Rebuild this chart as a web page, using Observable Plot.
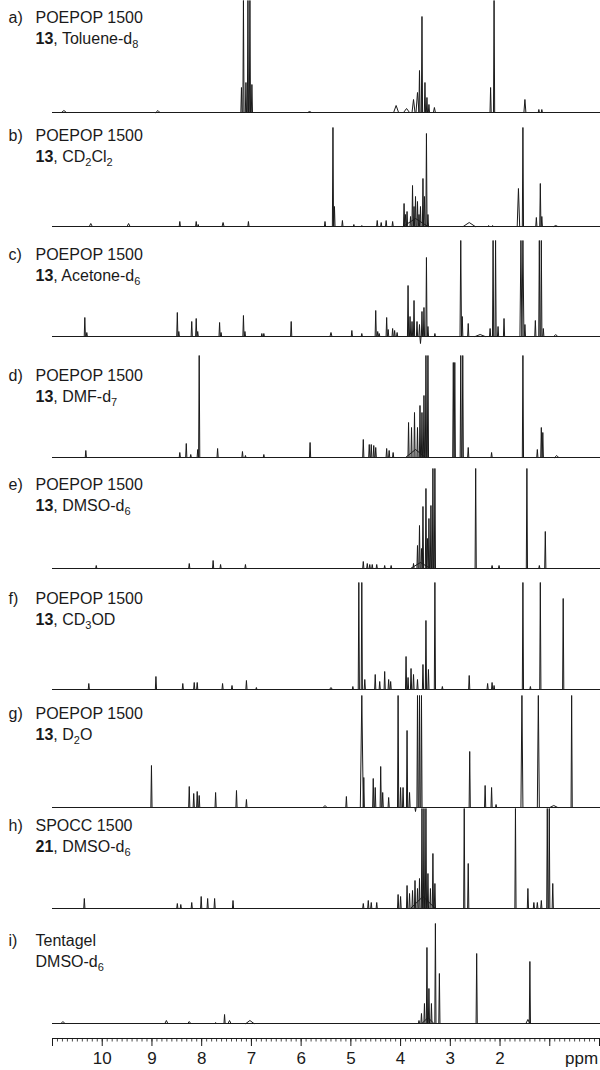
<!DOCTYPE html>
<html><head><meta charset="utf-8">
<script src="https://cdn.jsdelivr.net/npm/d3@7"></script>
<script src="https://cdn.jsdelivr.net/npm/@observablehq/plot@0.6"></script>
<style>
body{margin:0;background:#fff;}
#chart svg{display:block;}
</style></head><body><div id="chart"></div>
<script>
// ---- panel texts ----
const panelIds = ["a)","b)","c)","d)","e)","f)","g)","h)","i)"];
const line1 = ["POEPOP 1500","POEPOP 1500","POEPOP 1500","POEPOP 1500","POEPOP 1500","POEPOP 1500","POEPOP 1500","SPOCC 1500","Tentagel"];
const line2 = ["**13**, Toluene-d_8","**13**, CD_2Cl_2","**13**, Acetone-d_6","**13**, DMF-d_7","**13**, DMSO-d_6","**13**, CD_3OD","**13**, D_2O","**21**, DMSO-d_6","DMSO-d_6"];

// ---- axis ----
const tickValues = [10,9,8,7,6,5,4,3,2];
const tickLabels = ["10","9","8","7","6","5","4","3","2"];
const majorTicks = [11,10,9,8,7,6,5,4,3,2,1,0];
const unitLabel = "ppm";

// ---- peak lists: [ppm, visible height, half-width(ppm, optional)] ----
const specA = [[10.77,2,0.05],[8.88,2,0.04],[7.20,25],[7.16,112],[7.11,30],[7.07,112],[7.03,112],[6.99,28],
 [5.83,1,0.04],[4.09,7,0.05],[3.88,4,0.06],[3.74,13,0.03],[3.66,20,0.03],[3.62,42],[3.57,96],[3.51,30],[3.47,15],[3.43,8],[3.32,5,0.02],
 [2.19,25],[2.12,112],[1.50,13,0.02],[1.22,3],[1.16,3]];
const specB = [[10.23,3,0.03],[9.47,3,0.03],[8.44,5],[8.11,5],[8.07,2],[7.57,4,0.02],[7.06,5],
 [5.52,5],[5.36,99],[5.33,20],[5.17,6],[4.94,2],[4.78,1],[4.47,6],[4.39,4],[4.29,6],[4.16,5],
 [3.7,8,0.25],[3.93,23],[3.90,12],[3.87,15],[3.80,10],[3.76,41],[3.73,20],[3.70,30],[3.66,25],[3.63,12],[3.60,20],[3.55,48],[3.52,30],[3.48,93],[3.45,12],
 [2.62,4,0.12],[2.23,1],[2.15,1],[1.63,38,0.025],[1.54,99],[1.27,9],[1.19,43],[1.16,10],[0.88,1,0.04]];
const specC = [[10.35,19],[10.31,4],[8.49,24],[8.46,5],[8.20,15],[8.11,18],[8.08,5],[7.64,14],[7.61,4],[7.16,21],[7.13,5],[6.79,3],[6.75,3],[6.20,15],
 [5.40,4,0.02],[4.98,6],[4.78,3],[4.50,26],[4.46,5],[4.43,3],[4.28,19],[4.25,7],[4.16,8],[4.12,6],[4.07,4],
 [3.85,51],[3.81,20],[3.77,15],[3.73,36],[3.67,15],[3.62,12],[3.60,-7],[3.57,25],[3.53,29],[3.48,79],[3.45,10],[3.31,3],
 [2.79,96,0.015],[2.76,20],[2.64,13],[2.4,2,0.1],[2.20,8],[2.14,96],[2.09,96],[2.04,10],[1.92,18],
 [1.58,96,0.02],[1.54,96,0.02],[1.50,12],[1.29,16],[1.21,96],[1.17,96],[1.13,8],[0.88,2,0.04]];
const specD = [[10.33,7],[8.44,5],[8.31,14],[8.22,3],[8.08,8],[8.05,102],[7.68,9],[7.18,6],[7.12,2],[6.75,3],[5.82,15],
 [4.75,18],[4.63,13],[4.59,13],[4.54,12],[4.50,10],[4.28,9],[4.23,7],[4.15,5],
 [3.7,8,0.2],[3.84,35],[3.78,30],[3.72,45],[3.66,30],[3.61,52],[3.57,45],[3.53,62],[3.49,102],[3.45,102],
 [2.94,95],[2.91,95],[2.79,102],[2.75,102],[2.64,10],[2.17,5],[1.54,102],[1.25,8],[1.17,30],[1.14,25],[0.86,2,0.04]];
const specE = [[10.12,3],[8.25,5],[7.77,8],[7.62,4],[7.12,4],
 [4.75,7],[4.67,5],[4.62,4],[4.57,4],[4.48,4],[4.32,3],[4.19,3],
 [3.6,6,0.2],[3.74,5],[3.66,23],[3.62,43],[3.58,20],[3.55,62],[3.49,80],[3.46,30],[3.43,50],[3.39,63],[3.35,100],[3.31,100],
 [2.49,100],[2.16,3],[2.02,3],[1.46,100],[1.21,3],[1.09,37]];
const specF = [[10.27,6],[8.92,13],[8.38,6],[8.15,7],[8.09,7],[7.58,6],[7.39,4],[7.10,9],[6.90,2],
 [5.40,2,0.03],[4.96,3],[4.84,107],[4.78,107],[4.72,10],[4.51,15],[4.42,8],[4.32,18],[4.24,10],[4.20,8],
 [3.89,33],[3.85,12],[3.79,21],[3.74,15],[3.66,10],[3.55,25],[3.49,69],[3.44,20],[3.31,107],[3.16,3],
 [2.62,14],[2.25,6],[2.16,7],[2.12,4],[1.54,107],[1.39,3],[1.19,107],[0.73,91]];
const specG = [[9.01,42],[8.25,21],[8.16,14],[8.09,16],[8.05,12],[7.72,15],[7.30,17],[7.10,8],
 [5.52,2,0.04],[5.09,11],[4.78,112,0.03],[4.74,30],[4.55,29],[4.51,20],[4.40,41],[4.36,15],[4.24,10],
 [4.05,112],[4.00,20],[3.95,20],[3.87,77],[3.82,15],[3.70,-4],[3.66,112],[3.62,112],[3.58,112],
 [2.61,56],[2.30,22],[2.17,20],[2.08,3],[1.56,112,0.02],[1.23,112,0.02],[0.92,2,0.08],[0.56,112]];
const specH = [[10.36,10],[8.49,5],[8.42,4],[8.20,6],[8.01,12],[7.88,10],[7.74,10],[7.37,8],
 [4.75,5],[4.65,8],[4.59,6],[4.48,6],[3.55,12,0.25],
 [4.05,14],[4.00,12],[3.87,23],[3.82,15],[3.76,18],[3.71,28],[3.66,20],[3.62,30],[3.57,100],[3.53,100],[3.49,100],[3.45,35],[3.40,20],[3.35,55],[3.31,25],
 [2.72,100],[2.64,45],[1.69,100],[1.44,20],[1.32,6],[1.25,6],[1.17,8],[1.05,100],[1.01,100],[0.94,25]];
const specI = [[10.79,2,0.04],[8.71,3,0.03],[8.25,2,0.03],[7.72,1],[7.54,9],[7.44,3,0.03],[7.03,3,0.08],
 [3.45,6,0.12],[3.63,3],[3.58,10],[3.52,20],[3.47,76],[3.43,35],[3.38,20],[3.30,100],[3.22,50],[2.47,70],[1.44,4,0.04],[1.40,62]];
const spectra = [specA,specB,specC,specD,specE,specF,specG,specH,specI];

// ---- layout (pixels) ----
const W = 600, H = 1070, axisY = 1038;
const baselinePx = [112,226,336,457,568,689,807,908,1023];
const labelPx = [17,135,254,375,484,598,713,825,940];
const lineGap = 21;
const defaultHalfWidth = 0.012;
const fs = 16;

const baselines = baselinePx.map(p => axisY - p);

const peakRows = [];
spectra.forEach((peaks, i) => {
  peaks.forEach((p, j) => {
    const [ppm, h, w = defaultHalfWidth] = p;
    const key = i + "-" + j;
    peakRows.push({key, x: ppm + w, y: baselines[i]});
    peakRows.push({key, x: ppm, y: baselines[i] + h});
    peakRows.push({key, x: ppm - w, y: baselines[i]});
  });
});

const labelRows = [];
panelIds.forEach((id, i) => {
  labelRows.push({t: id, y: axisY - labelPx[i], col: 0});
  labelRows.push({t: line1[i], y: axisY - labelPx[i], col: 1});
  labelRows.push({t: line2[i], y: axisY - labelPx[i] - lineGap, col: 1});
});

const minorTicks = d3.range(0, 111).map(k => k / 10);
const ink = "#1a1a1a";

const chart = Plot.plot({
  width: W, height: H,
  marginLeft: 52, marginRight: 1, marginTop: 0, marginBottom: H - axisY,
  x: {domain: [11, 0], axis: null},
  y: {domain: [0, axisY], axis: null},
  style: {fontFamily: "'Liberation Sans', Arial, Helvetica, sans-serif", fontSize: fs + "px", background: "white", color: ink, overflow: "visible"},
  marks: [
    Plot.ruleY(baselines, {y: d => d, x1: 11, x2: -0.03, stroke: ink, strokeWidth: 1}),
    Plot.line(peakRows, {x: "x", y: "y", z: "key", stroke: ink, strokeWidth: 1, curve: "linear"}),
    // axis
    Plot.ruleY([0], {x1: 11, x2: -0.03, stroke: ink, strokeWidth: 1}),
    Plot.ruleX(minorTicks, {x: d => d, y1: 0, y2: -3.5, stroke: ink, strokeWidth: 0.8}),
    Plot.ruleX(majorTicks, {x: d => d, y1: 0, y2: -8, stroke: ink, strokeWidth: 1}),
    Plot.text(tickValues, {x: d => d, text: (d, i) => tickLabels[i], frameAnchor: "bottom", dy: 20, lineAnchor: "middle", fill: ink, fontSize: 17}),
    Plot.text([unitLabel], {x: 0.36, text: d => d, frameAnchor: "bottom", dy: 20, lineAnchor: "middle", fill: ink, fontSize: 17}),
    // panel labels
    Plot.text(labelRows.filter(d => d.col === 0), {frameAnchor: "left", dx: -44, y: "y", text: "t", textAnchor: "start", lineAnchor: "middle", fill: ink, fontSize: fs}),
    Plot.text(labelRows.filter(d => d.col === 1), {frameAnchor: "left", dx: -17, y: "y", text: "t", textAnchor: "start", lineAnchor: "middle", fill: ink, fontSize: fs})
  ]
});

// rich text: **bold** and _subscript
const NS = "http://www.w3.org/2000/svg";
chart.querySelectorAll("text").forEach(t => {
  const s = t.textContent;
  if (!/\*\*|_/.test(s)) return;
  while (t.firstChild) t.removeChild(t.firstChild);
  const re = /\*\*(.+?)\*\*|_(\d)/g;
  let last = 0, m, shifted = false;
  const add = (txt, opts = {}) => {
    const ts = document.createElementNS(NS, "tspan");
    ts.textContent = txt;
    if (opts.bold) ts.setAttribute("font-weight", "bold");
    if (opts.sub) { ts.setAttribute("font-size", "11"); ts.setAttribute("dy", "4"); shifted = true; }
    else if (shifted) { ts.setAttribute("dy", "-4"); shifted = false; }
    t.appendChild(ts);
  };
  while ((m = re.exec(s))) {
    if (m.index > last) add(s.slice(last, m.index));
    if (m[1]) add(m[1], {bold: true}); else add(m[2], {sub: true});
    last = re.lastIndex;
  }
  if (last < s.length) add(s.slice(last));
});

document.getElementById("chart").appendChild(chart);
</script></body></html>
